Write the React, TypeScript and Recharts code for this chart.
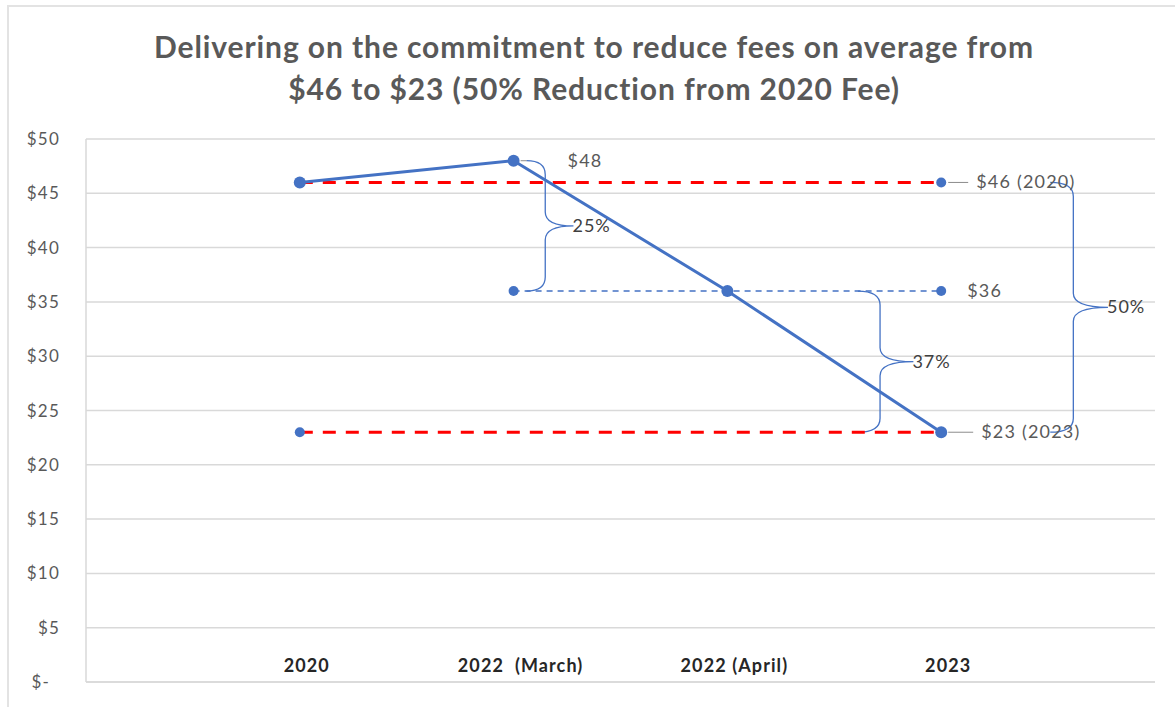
// Average fee reduction chart (Recharts)
import React from 'react';
import { LineChart, Line, XAxis, YAxis, CartesianGrid, ReferenceArea } from 'recharts';

const categories = ['2020', '2022  (March)', '2022 (April)', '2023'];
const averageFee = [46, 48, 36, 23];
const fee2020 = [46, null, null, 46];
const fee2023 = [23, null, null, 23];
const feeApril = [null, 36, 36, 36];
const yTicks = [0, 5, 10, 15, 20, 25, 30, 35, 40, 45, 50];

const braceLabels = ['25%', '37%', '50%'];
const braceFrom = [48, 36, 46];
const braceTo = [36, 23, 23];

const rows = categories.map((name, i) => ({
  x: i + 1,
  name,
  actual: averageFee[i],
  ref2020: fee2020[i],
  ref2023: fee2023[i],
  refApril: feeApril[i],
}));

const FONT = 'Lato, "Open Sans", sans-serif';
const BLUE = '#4472C4';

// horizontal placement of the braces (x axis units): ends, tip
const braceX = [
  [2.06, 2.28],
  [3.61, 3.87],
  [4.51, 4.78],
];

const YTick = ({ x, y, payload }: any) => (
  <text
    x={payload.value === 0 ? x - 10 : x}
    y={y}
    dy={6}
    textAnchor="end"
    fill="#595959"
    fontSize={17}
    letterSpacing={1.2}
    fontFamily={FONT}
  >
    {payload.value === 0 ? '$-' : `$${payload.value}`}
  </text>
);

const XTick = ({ x, y, payload }: any) => (
  <text
    x={x + 7}
    y={y}
    dy={-18}
    textAnchor="middle"
    fill="#262626"
    fontSize={18}
    fontWeight={700}
    letterSpacing={1.1}
    fontFamily={FONT}
    style={{ whiteSpace: 'pre' }}
  >
    {categories[payload.value - 1]}
  </text>
);

// value label with optional short leader line
const pointLabel = (idx: number, suffix: string, gap: number, leader: number) => (props: any) => {
  const { x, y, index, value } = props;
  if (index !== idx || value == null) return null;
  return (
    <g>
      {leader > 0 && <line x1={x + 7} y1={y} x2={x + 7 + leader} y2={y} stroke="#8c8c8c" strokeWidth={1} />}
      <text x={x + gap} y={y} dy={6} fill="#595959" fontSize={18} letterSpacing={1.2} fontFamily={FONT}>
        {`$${value}${suffix}`}
      </text>
    </g>
  );
};

const Brace = (label: string, tipFrac: number) => (props: any) => {
  const { x, y, width, height } = props;
  const L = x;
  const R = x + width;
  const M = L + width * 0.4;
  const T = y;
  const B = y + height;
  const Y = T + height * tipFrac;
  const r = Math.min(M - L, 14);
  const d = `M ${L} ${T} Q ${M} ${T} ${M} ${T + r} L ${M} ${Y - r} Q ${M} ${Y} ${R} ${Y} Q ${M} ${Y} ${M} ${Y + r} L ${M} ${B - r} Q ${M} ${B} ${L} ${B}`;
  return (
    <g>
      <path d={d} fill="none" stroke={BLUE} strokeWidth={1.3} />
      <text x={R - 1} y={Y} dy={6} fill="#404040" fontSize={18} letterSpacing={1} fontFamily={FONT}>
        {label}
      </text>
    </g>
  );
};

export default function App() {
  return (
    <div style={{ position: 'relative', width: 1175, height: 707, background: '#fff' }}>
      <style>{`body{margin:0}`}</style>
      <div
        style={{
          position: 'absolute',
          left: 7,
          top: 5,
          right: -2,
          bottom: -2,
          borderLeft: '2px solid #e3e3e3',
          borderTop: '2px solid #e3e3e3',
        }}
      />
      <div
        style={{
          position: 'absolute',
          left: 0,
          top: 25,
          width: 1188,
          textAlign: 'center',
          fontFamily: FONT,
          fontWeight: 700,
          fontSize: 30,
          letterSpacing: 0.9,
          lineHeight: '42px',
          color: '#595959',
        }}
      >
        Delivering on the commitment to reduce fees on average from
        <br />
        $46 to $23 (50% Reduction from 2020 Fee)
      </div>
      <div style={{ position: 'absolute', left: 0, top: 0 }}>
        <LineChart width={1175} height={707} data={rows} margin={{ top: 139, right: 20, bottom: 5, left: 0 }}>
          <CartesianGrid vertical={false} stroke="#d9d9d9" strokeWidth={1.5} />
          <XAxis
            dataKey="x"
            type="number"
            domain={[0, 5]}
            ticks={[1, 2, 3, 4]}
            height={20}
            axisLine={{ stroke: '#d9d9d9', strokeWidth: 1.5 }}
            tickLine={false}
            tick={<XTick />}
          />
          <YAxis
            domain={[0, 50]}
            ticks={yTicks}
            width={86}
            axisLine={{ stroke: '#d9d9d9', strokeWidth: 1.5 }}
            tickLine={false}
            tickMargin={20}
            tick={<YTick />}
          />
          {braceLabels.map((label, i) => (
            <ReferenceArea
              key={label}
              x1={braceX[i][0]}
              x2={braceX[i][1]}
              y1={braceTo[i]}
              y2={braceFrom[i]}
              ifOverflow="visible"
              shape={Brace(label, 0.5)}
            />
          ))}
          <Line
            dataKey="ref2020"
            stroke="#FF0000"
            strokeWidth={3}
            strokeDasharray="13 10"
            connectNulls
            dot={{ r: 5, fill: BLUE, stroke: BLUE, strokeWidth: 0 }}
            label={pointLabel(3, ' (2020)', 35, 20)}
            isAnimationActive={false}
          />
          <Line
            dataKey="ref2023"
            stroke="#FF0000"
            strokeWidth={3}
            strokeDasharray="13 10"
            connectNulls
            dot={{ r: 5, fill: BLUE, stroke: BLUE, strokeWidth: 0 }}
            isAnimationActive={false}
          />
          <Line
            dataKey="refApril"
            stroke={BLUE}
            strokeWidth={1.5}
            strokeDasharray="6 5"
            connectNulls
            dot={{ r: 5, fill: BLUE, stroke: BLUE, strokeWidth: 0 }}
            label={pointLabel(3, '', 26, 0)}
            isAnimationActive={false}
          />
          <Line
            dataKey="actual"
            stroke={BLUE}
            strokeWidth={3}
            dot={{ r: 6, fill: BLUE, stroke: BLUE, strokeWidth: 0 }}
            label={(props: any) => {
              if (props.index === 1) return pointLabel(1, '', 54, 6)(props);
              if (props.index === 3) return pointLabel(3, ' (2023)', 40, 25)(props);
              return null;
            }}
            isAnimationActive={false}
          />
        </LineChart>
      </div>
    </div>
  );
}
